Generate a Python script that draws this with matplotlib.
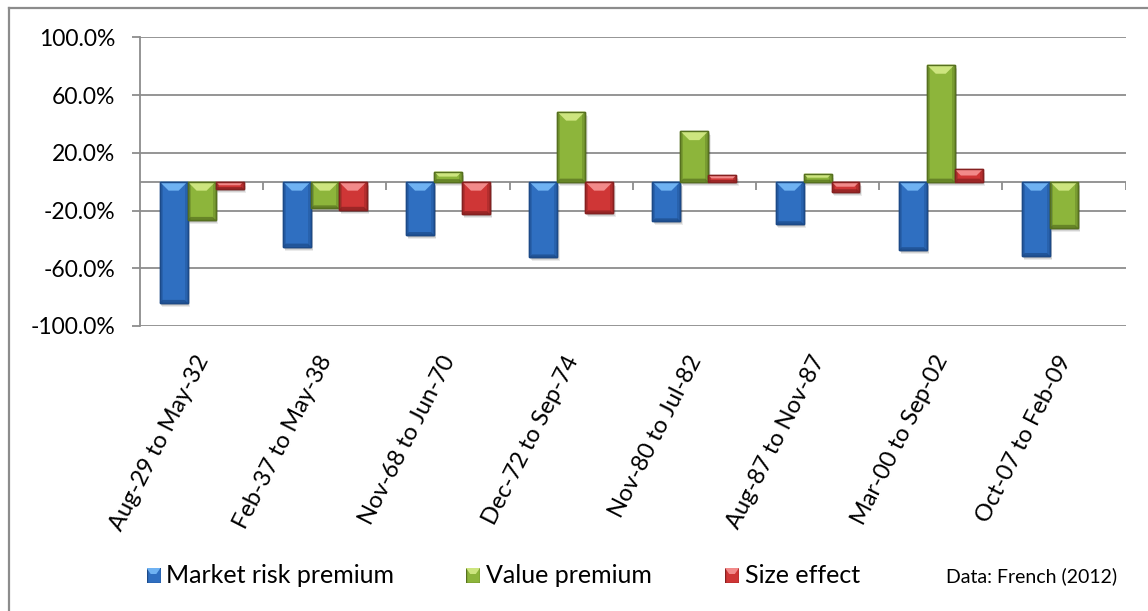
import numpy as np
import matplotlib.pyplot as plt
from matplotlib.patches import Rectangle, Polygon
from matplotlib.lines import Line2D
from matplotlib import transforms

plt.rcParams['font.family'] = ['Lato', 'DejaVu Sans']

# === Data (returns over each period, %) ===
periods = ["Aug-29 to May-32", "Feb-37 to May-38", "Nov-68 to Jun-70",
           "Dec-72 to Sep-74", "Nov-80 to Jul-82", "Aug-87 to Nov-87",
           "Mar-00 to Sep-02", "Oct-07 to Feb-09"]
market_risk = [-84.0, -45.0, -37.0, -52.5, -27.5, -29.5, -47.5, -51.5]
value_prem = [-26.5, -18.5, 7.0, 48.5, 35.0, 5.5, 81.0, -32.0]
size_effect = [-5.0, -19.5, -22.5, -22.0, 4.5, -7.0, 8.5, 0.0]
series_names = ["Market risk premium", "Value premium", "Size effect"]
yticks = [-100, -60, -20, 20, 60, 100]

# base / light bevel / dark edge per series
palette = [("#2f6fc1", "#6fb2f2", "#1c4a88"),
           ("#8db53b", "#cde57f", "#56701f"),
           ("#cf3636", "#f28a8a", "#852020")]

W, H, DPI = 1148, 611, 100
fig = plt.figure(figsize=(W / DPI, H / DPI), dpi=DPI)

# plot area in pixels
px_l, px_r, px_t, px_b = 140, 1125.5, 37.3, 326
ax = fig.add_axes([px_l / W, 1 - px_b / H, (px_r - px_l) / W, (px_b - px_t) / H])
ax.set_xlim(-0.5, len(periods) - 0.5)
ax.set_ylim(-100, 100)

# data units per pixel
ux = len(periods) / (px_r - px_l)
uy = 200 / (px_b - px_t)

grey = "#8c8c8c"
ax.set_yticks(yticks)
ax.set_yticklabels([f"{v:.1f}%" for v in yticks], fontsize=16.5)
ax.tick_params(axis="y", length=5.8, width=1.3, color=grey, pad=12)
ax.set_xticks([])
for s in ["top", "right", "bottom"]:
    ax.spines[s].set_visible(False)
ax.spines["left"].set_color(grey)
ax.spines["left"].set_linewidth(1.3)
for v in yticks:
    ax.axhline(v, color=grey, lw=1.3, zorder=0)
ax.axhline(0, color=grey, lw=1.3, zorder=0)
bounds = np.arange(len(periods) + 1) - 0.5
ax.vlines(bounds[1:], 0, -8 * uy, color=grey, lw=1.3, zorder=0)


def bevel_bar(x0, w, val, colors):
    base, light, dark = colors
    y0, y1 = min(0, val), max(0, val)
    h = y1 - y0
    if h <= 0:
        return
    # soft drop shadow
    for k, a in [(4, 0.08), (3, 0.10), (2, 0.12)]:
        ax.add_patch(Rectangle((x0 + k * ux * 0.6, y0 - k * uy), w, h,
                               facecolor="black", alpha=a, lw=0, zorder=1))
    ax.add_patch(Rectangle((x0, y0), w, h, facecolor=base, edgecolor=dark,
                           lw=1.0, zorder=2))
    # darker side strips
    sw = 3 * ux
    ax.add_patch(Rectangle((x0, y0), sw, h, facecolor=dark, alpha=0.35,
                           lw=0, zorder=2.1))
    ax.add_patch(Rectangle((x0 + w - sw, y0), sw, h, facecolor=dark,
                           alpha=0.35, lw=0, zorder=2.1))
    # light bevel on top edge
    d = min(9 * uy, h / 2)
    b = min(9 * ux, w / 2) * d / (9 * uy)
    ax.add_patch(Polygon([(x0, y1), (x0 + w, y1), (x0 + w - b, y1 - d),
                          (x0 + b, y1 - d)], closed=True, facecolor=light,
                         edgecolor="none", zorder=2.2))
    # dark bevel on bottom edge
    db = min(3 * uy, h / 4)
    ax.add_patch(Polygon([(x0, y0), (x0 + w, y0), (x0 + w - db / uy * ux, y0 + db),
                          (x0 + db / uy * ux, y0 + db)], closed=True,
                         facecolor=dark, edgecolor="none", alpha=0.7, zorder=2.2))
    ax.add_patch(Rectangle((x0, y0), w, h, facecolor="none", edgecolor=dark,
                           lw=1.0, zorder=2.3))


bw = 0.227
for j, vals in enumerate([market_risk, value_prem, size_effect]):
    for i, v in enumerate(vals):
        bevel_bar(i + (j - 1.5) * bw, bw, v, palette[j])

# category labels, rotated under the plot area
lab_tr = transforms.offset_copy(ax.get_xaxis_transform(), fig=fig,
                                x=2, y=-31, units="dots")
for i, p in enumerate(periods):
    ax.text(i, 0, p, transform=lab_tr, rotation=63, rotation_mode="anchor",
            ha="right", va="center", fontsize=17)

# legend along the bottom
leg_x = [146.5, 466, 725]
for (x, name, colors) in zip(leg_x, series_names, palette):
    base, light, dark = colors
    lax = fig.add_axes([x / W, 1 - 583 / H, 14 / W, 15 / H])
    lax.set_xlim(0, 1)
    lax.set_ylim(0, 1)
    lax.axis("off")
    lax.add_patch(Rectangle((0, 0), 1, 1, facecolor=base, edgecolor=dark, lw=1))
    lax.add_patch(Polygon([(0, 1), (1, 1), (0.7, 0.6), (0.3, 0.6)],
                          facecolor=light, edgecolor="none"))
    fig.text((x + 20) / W, 1 - 583 / H, name, fontsize=18,
             ha="left", va="baseline")
fig.text(1117 / W, 1 - 582 / H, "Data: French (2012)", fontsize=14,
         ha="right", va="baseline")

# outer chart border (left and top edges)
fig.add_artist(Line2D([8.7 / W, 8.7 / W], [0, 1 - 7.7 / H], transform=fig.transFigure,
                      color=grey, lw=1.6))
fig.add_artist(Line2D([8.7 / W, 1], [1 - 7.7 / H, 1 - 7.7 / H],
                      transform=fig.transFigure, color=grey, lw=1.6))

fig.savefig("out.png", dpi=DPI)
